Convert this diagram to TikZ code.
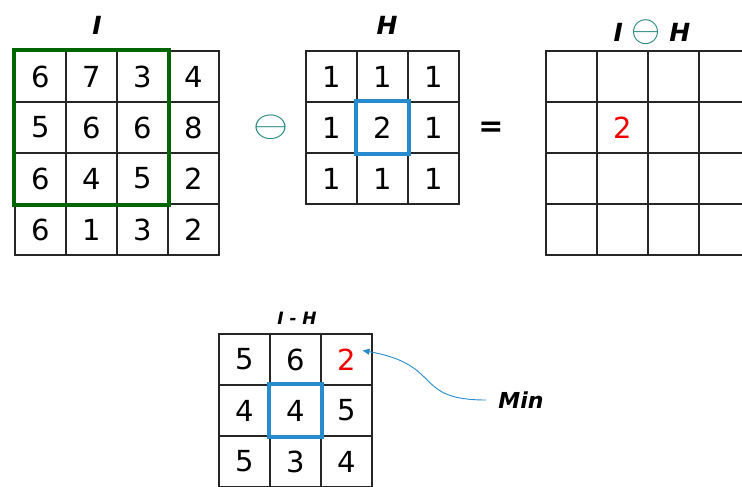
\documentclass[tikz,border=0pt]{standalone}
\usepackage{fontspec}
\setmainfont{DejaVu Sans}
\usetikzlibrary{arrows.meta}
\definecolor{winGreen}{RGB}{0,100,0}
\definecolor{winBlue}{RGB}{38,140,205}
\definecolor{opTeal}{RGB}{20,128,118}
\definecolor{minRed}{RGB}{240,0,0}
\tikzset{
  cell/.style={draw=black!85,line width=1.1pt,minimum size=51pt,inner sep=0pt,
    font=\fontsize{29}{29}\selectfont},
  ttl/.style={font=\fontsize{25}{25}\selectfont\bfseries\itshape},
  win/.style={line width=4pt},
}

\begin{document}
\begin{tikzpicture}[x=1pt,y=-1pt]
\useasboundingbox (0,0) rectangle (742,487);
% input image I
\foreach \row [count=\r] in {{6,7,3,4},{5,6,6,8},{6,4,5,2},{6,1,3,2}}
  \foreach \v [count=\c] in \row
    \node[cell] (I-\r-\c) at ({15+51*(\c-0.5)},{51+51*(\r-0.5)}) {\v};
% structuring element H
\foreach \row [count=\r] in {{1,1,1},{1,2,1},{1,1,1}}
  \foreach \v [count=\c] in \row
    \node[cell] (H-\r-\c) at ({306+51*(\c-0.5)},{51+51*(\r-0.5)}) {\v};
% result grid
\foreach \r in {1,...,4}
  \foreach \c in {1,...,4}
    \node[cell] (R-\r-\c) at ({546+51*(\c-0.5)},{51+51*(\r-0.5)}) {};
\node[text=minRed,font=\fontsize{29}{29}\selectfont] (res) at (R-2-2) {2};
% I - H
\foreach \row [count=\r] in {{5,6,\textcolor{minRed}{2}},{4,4,5},{5,3,4}}
  \foreach \v [count=\c] in \row
    \node[cell] (L-\r-\c) at ({219+51*(\c-0.5)},{334+51*(\r-0.5)}) {\v};

% windows
\draw[win,winGreen] (I-1-1.north west) rectangle (I-3-3.south east);
\draw[win,winBlue] (H-2-2.north west) rectangle (H-2-2.south east);
\draw[win,winBlue] (L-2-2.north west) rectangle (L-2-2.south east);

% titles and operators
\node[ttl] (tI) at (97,25) {I};
\node[ttl] (tH) at (387,25) {H};
\node[ttl] (tR) at (652,32) {I \textcolor{opTeal}{\scalebox{1.5}{$\ominus$}} H};
\node[ttl,font=\fontsize{17}{17}\selectfont\bfseries\itshape] (tL) at (297,318) {I - H};
\node[text=opTeal] (op) at (271,127) {\scalebox{4.5}[3.7]{$\ominus$}};
\node[font=\fontsize{30}{30}\selectfont\bfseries] (eq) at (491,129) {=};

% minimum marker
\node[ttl,font=\fontsize{22}{22}\selectfont\bfseries\itshape] (min) at (521,400) {Min};
\draw[winBlue,line width=0.9pt,-{Triangle[length=7pt,width=6pt]},shorten <=9pt]
  (min.west) to[out=180,in=-10,looseness=1.5] ([xshift=-10pt,yshift=9pt]L-1-3.east);
\end{tikzpicture}
\end{document}
